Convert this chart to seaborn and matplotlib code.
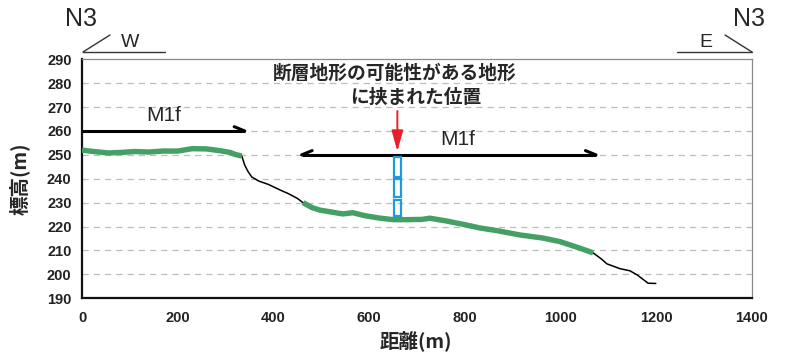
import numpy as np
import pandas as pd
import matplotlib
matplotlib.use("Agg")
import matplotlib.pyplot as plt
import seaborn as sns

# ---- data ----
dist = [0, 20, 55, 80, 110, 140, 170, 200, 230, 260, 290, 310, 320, 334, 340, 347, 355,
        370, 390, 414, 430, 450, 462, 480, 497, 530, 545, 566, 590, 620, 650, 680,
        710, 727, 760, 800, 832, 870, 915, 963, 999, 1040, 1068, 1085, 1097, 1124,
        1145, 1160, 1183, 1199]
elev = [252.0, 251.5, 250.8, 251.0, 251.4, 251.2, 251.6, 251.6, 252.6, 252.5, 251.7, 251.0,
        250.2, 249.5, 245.7, 243.0, 240.7,
        239.0, 237.6, 235.3, 233.9, 231.8, 230.0, 228.0, 226.9, 225.8, 225.3, 225.8, 224.6,
        223.6, 222.9, 222.9, 223.0, 223.5, 222.4, 220.8, 219.4, 218.2, 216.5, 215.2,
        213.7, 211.0, 209.0, 206.5, 204.4, 202.4, 201.5, 199.8, 196.3, 196.2]
green_ranges = [(0, 334), (462, 1068)]

xticks = [0, 200, 400, 600, 800, 1000, 1200, 1400]
yticks = [190, 200, 210, 220, 230, 240, 250, 260, 270, 280, 290]

arrow1 = (0, 340, 260)        # x_start, x_end, y  (pointing right)
arrow2 = (459, 1074, 250)     # double headed
label1 = (171, 266.3, "M1f")
label2 = (786, 256.4, "M1f")
marker_x = 659
marker_boxes = [(249.1, 240.7), (239.9, 232.4), (231.1, 224.4)]
red_arrow = (269.5, 250.3)
note_lines = ["断層地形の可能性がある地形", "に挟まれた位置"]
note_pos = [(654, 284.0), (698, 274.0)]

sns.set_theme(style="white")
plt.rcParams['font.family'] = ['Noto Sans CJK JP', 'DejaVu Sans']

df = pd.DataFrame({"dist": dist, "elev": elev})

fig = plt.figure(figsize=(7.87, 3.58), dpi=100)
ax = fig.add_axes([0.1042, 0.1668, 0.8513, 0.6676])

sns.lineplot(data=df, x="dist", y="elev", ax=ax, color="black", lw=1.1, zorder=4)
# green segments on top
for a, b in green_ranges:
    sub = df[(df.dist >= a) & (df.dist <= b)]
    sns.lineplot(data=sub, x="dist", y="elev", ax=ax, color="#45a066", lw=3.9,
                 solid_capstyle="butt", zorder=5)

ax.set_xlim(0, 1400)
ax.set_ylim(190, 290)
ax.set_xticks(xticks)
ax.set_yticks(yticks)
tickfont = dict(family=['Liberation Sans', 'DejaVu Sans'], size=10.5, weight='bold')
ax.set_xticklabels([str(t) for t in xticks], fontdict=tickfont, color="#222222")
ax.set_yticklabels([str(t) for t in yticks], fontdict=tickfont, color="#222222")
ax.tick_params(axis='x', direction='in', length=6, width=1, color='#444444', pad=9)
ax.tick_params(axis='y', direction='inout', length=9, width=1.2, color='#222222', pad=3)

for y in yticks[1:-1]:
    ax.axhline(y, color="#bdbdbd", lw=0.9, ls=(0, (5, 4)), zorder=1)

for s in ["top", "right"]:
    ax.spines[s].set_color("#8a8a8a")
    ax.spines[s].set_linewidth(0.9)
for s in ["left", "bottom"]:
    ax.spines[s].set_color("#111111")
    ax.spines[s].set_linewidth(1.6)

ax.set_xlabel("距離(m)", fontsize=14, fontweight='bold')
ax.set_ylabel("標高(m)", fontsize=14, fontweight='bold')
ax.xaxis.set_label_coords((416 - 82) / 670, -(341 - 298.3) / 239, transform=ax.transAxes)
ax.xaxis.label.set_va("center")
ax.yaxis.set_label_coords(-(82 - 19) / 670, (298.3 - 179) / 239, transform=ax.transAxes)
ax.yaxis.label.set_va("center")

# M1f arrows (harpoon style)
def harpoon(x0, x1, y, right=True, left=False):
    ax.plot([x0, x1], [y, y], color="black", lw=2.2, zorder=6, solid_capstyle="butt")
    dx, dy = 22, 1.8
    if right:
        ax.plot([x1 - dx, x1], [y + dy, y], color="black", lw=2.2, zorder=6)
    if left:
        ax.plot([x0 + dx, x0], [y + dy, y], color="black", lw=2.2, zorder=6)

harpoon(arrow1[0], arrow1[1], arrow1[2], right=True)
harpoon(arrow2[0], arrow2[1], arrow2[2], right=True, left=True)
for lx, ly, lt in (label1, label2):
    ax.text(lx, ly, lt, fontsize=15, ha="center", va="center",
            family=['Liberation Sans', 'DejaVu Sans'], zorder=6)

# marker boxes
for top, bot in marker_boxes:
    ax.add_patch(plt.Rectangle((marker_x - 7.5, bot), 15, top - bot, fill=False,
                               edgecolor="#1e9be0", lw=1.6, zorder=7))
ax.annotate("", xy=(marker_x, red_arrow[1]), xytext=(marker_x, red_arrow[0]),
            arrowprops=dict(arrowstyle="-|>,head_width=0.25,head_length=0.9",
                            color="#e8202a", lw=1.4, mutation_scale=14), zorder=8)
for (x, y), t in zip(note_pos, note_lines):
    ax.text(x, y, t, fontsize=13.5, fontweight='bold', ha="center", va="center", zorder=7)

# section direction marks (figure coords)
def fx(px):
    return px / 787
def fy(py):
    return 1 - py / 358

latin = ['Liberation Sans', 'DejaVu Sans']
fig.text(fx(65), fy(19), "N3", fontsize=18, ha="left", va="center", family=latin)
fig.text(fx(733), fy(19), "N3", fontsize=18, ha="left", va="center", family=latin)
fig.text(fx(130), fy(42.5), "W", fontsize=14, ha="center", va="center", family=latin)
fig.text(fx(706), fy(42.5), "E", fontsize=14, ha="center", va="center", family=latin)
fig.add_artist(plt.Line2D([fx(83), fx(165)], [fy(52), fy(52)], color="#333333", lw=1))
fig.add_artist(plt.Line2D([fx(83), fx(110)], [fy(52), fy(35)], color="#333333", lw=1))
fig.add_artist(plt.Line2D([fx(677), fx(752)], [fy(52), fy(52)], color="#333333", lw=1))
fig.add_artist(plt.Line2D([fx(752), fx(725)], [fy(52), fy(35)], color="#333333", lw=1))

fig.savefig("out.png", dpi=100)
